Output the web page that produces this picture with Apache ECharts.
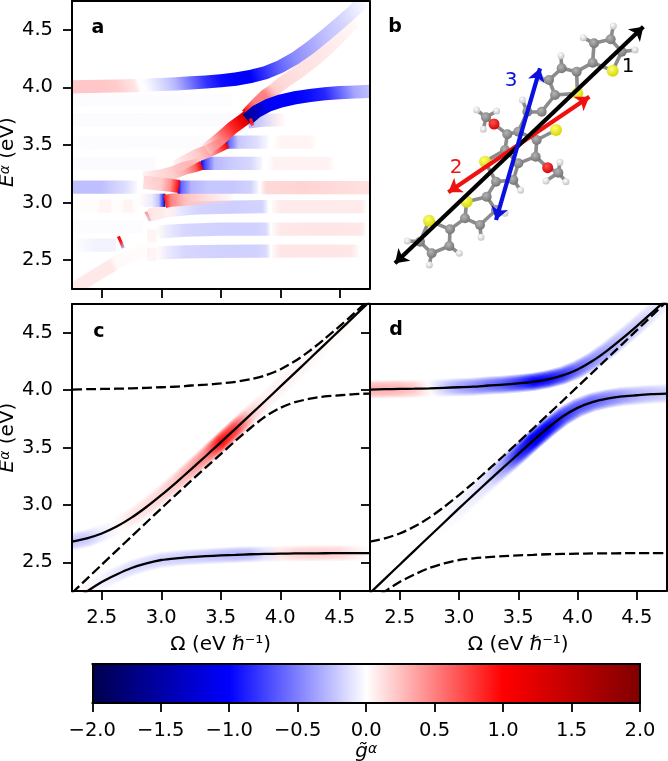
<!DOCTYPE html>
<html><head><meta charset="utf-8">
<style>html,body{margin:0;padding:0;background:#fff}#c{width:668px;height:761px}</style>
<script src="https://cdn.jsdelivr.net/npm/echarts@6/dist/echarts.min.js"></script>
</head><body><div id="c"></div>
<script>
// ---------- tick labels ----------
const energyTicks = [2.5, 3.0, 3.5, 4.0, 4.5];
const omegaTicks = [2.5, 3.0, 3.5, 4.0, 4.5];
const colorTicks = [-2, -1.5, -1, -0.5, 0, 0.5, 1, 1.5, 2];
const cmapStops = [-2, -1, 0, 1, 2];

// ---------- polariton curves (panels c, d) ----------
const omega = [2.25,2.375,2.5,2.625,2.75,2.875,3,3.125,3.25,3.375,3.5,3.625,3.75,3.875,4,4.125,4.25,4.375,4.5,4.625,4.75];
const curveA = [4.005,4.008,4.01,4.012,4.015,4.02,4.025,4.03,4.04,4.047,4.058,4.072,4.094,4.128,4.18,4.253,4.344,4.448,4.558,4.672,4.791];
const curveB = [2.232,2.356,2.479,2.602,2.725,2.847,2.969,3.09,3.209,3.327,3.442,3.56,3.67,3.77,3.845,3.895,3.925,3.945,3.955,3.965,3.97];
const curveC = [2.68,2.709,2.751,2.811,2.889,2.982,3.085,3.195,3.309,3.426,3.545,3.665,3.786,3.907,4.03,4.152,4.275,4.399,4.522,4.646,4.77];
const curveD = [2.15,2.246,2.329,2.394,2.45,2.49,2.52,2.535,2.545,2.553,2.56,2.565,2.57,2.573,2.575,2.577,2.578,2.579,2.58,2.58,2.58];
const gCupper = [-.22,-.2,-.08,.02,.1,.13,.16,.22,.34,.48,.95,.75,.2,.06,.05,.04,.03,.02,.02,.01,0];
const gClower = [.02,.04,-.05,-.1,-.14,-.15,-.17,-.18,-.2,-.22,-.25,-.28,-.25,-.12,.1,.16,.18,.18,.16,.08,.01];
const gDupper = [.3,.3,.28,.2,.02,-.2,-.35,-.45,-.55,-.65,-.8,-1,-.95,-.8,-.6,-.45,-.35,-.25,-.2,-.12,-.05];
const gDlower = [0,0,0,0,0,-.01,-.05,-.08,-.15,-.4,-.85,-1.15,-1.05,-.8,-.65,-.6,-.5,-.4,-.3,-.25,-.2];

// ---------- panel a bands: omega, energy, g ----------
const faint1W=[2.25,3.6],  faint1E=[3.89,3.89],  faint1G=[-.012,-.008];
const faint2W=[2.25,3.7],  faint2E=[3.72,3.72],  faint2G=[-.012,-.015];
const faint3W=[2.25,3.4],  faint3E=[3.525,3.525],faint3G=[-.01,-.012];
const faint4W=[2.25,2.95], faint4E=[3.34,3.34],  faint4G=[-.015,-.015];
const faint5W=[2.25,2.8],  faint5E=[2.97,2.97],  faint5G=[.012,.012];
const faint6W=[2.25,2.85], faint6E=[2.79,2.79],  faint6G=[-.012,-.012];
const faint7W=[2.28,2.45,2.62], faint7E=[2.63,2.63,2.63], faint7G=[-.01,-.05,-.05];
const pink1W=[2.48,2.58],  pink1E=[2.97,2.97],   pink1G=[.035,.035];
const pink2W=[2.68,2.76],  pink2E=[2.97,2.97],   pink2G=[.035,.035];
const pink3W=[2.88,2.96],  pink3E=[2.55,2.55],   pink3G=[.04,.04];
const pink4W=[2.88,2.96],  pink4E=[2.71,2.71],   pink4G=[.04,.04];
const diagW=[2.25,2.42,2.58,2.62,2.9], diagE=[2.24,2.35,2.45,2.48,2.6], diagG=[.09,.09,.09,.02,.012];
const lowBlueW=[2.95,3.05,3.2,3.5,3.8,3.88,3.92], lowBlueE=[2.56,2.565,2.572,2.576,2.578,2.578,2.578], lowBlueG=[0,-.08,-.16,-.18,-.18,-.15,-.01];
const lowRedW=[3.93,4.0,4.4,4.6,4.66], lowRedE=[2.578,2.578,2.58,2.58,2.58], lowRedG=[.02,.1,.1,.09,.02];
const b277BlueW=[2.95,3.05,3.2,3.5,3.8,3.88,3.92], b277BlueE=[2.74,2.75,2.76,2.77,2.77,2.77,2.77], b277BlueG=[0,-.08,-.16,-.18,-.18,-.15,-.01];
const b277RedW=[3.93,4.0,4.4,4.68,4.72], b277RedE=[2.77,2.77,2.77,2.77,2.77], b277RedG=[.02,.09,.1,.09,.02];
const b296BlueW=[3.05,3.15,3.3,3.6,3.85,3.9], b296BlueE=[2.93,2.94,2.955,2.96,2.965,2.965], b296BlueG=[0,-.09,-.17,-.19,-.17,-.02];
const b296RedW=[3.93,4.0,4.4,4.68,4.72], b296RedE=[2.965,2.965,2.965,2.965,2.965], b296RedG=[.02,.08,.08,.08,.02];
const pale296W=[2.9,3.0,3.13], pale296E=[2.89,2.92,2.94], pale296G=[.1,.08,.01];
const tail3W=[3.03,3.08,3.2,3.4,3.6], tail3E=[3.01,3.02,3.03,3.045,3.05], tail3G=[.9,.5,.25,.12,.02];
const left3W=[2.8,2.92,2.98,3.01,3.035], left3E=[3.02,3.02,3.02,3.02,3.02], left3G=[0,-.08,-.25,-.7,-1.7];
const b313LeftW=[2.25,2.5,2.7,2.8], b313LeftE=[3.135,3.135,3.135,3.135], b313LeftG=[-.25,-.25,-.13,-.02];
const b313RedW=[2.85,3.0,3.08,3.15], b313RedE=[3.175,3.16,3.15,3.14], b313RedG=[.12,.2,.45,1];
const b313BlueW=[3.14,3.17,3.25,3.4,3.6,3.75,3.82], b313BlueE=[3.135,3.135,3.135,3.135,3.135,3.135,3.135], b313BlueG=[-1.05,-.6,-.3,-.22,-.22,-.18,-.03];
const b313PinkW=[3.83,3.88,4.2,4.5,4.75], b313PinkE=[3.13,3.13,3.13,3.13,3.13], b313PinkG=[.01,.15,.17,.14,.12];
const b334RedW=[2.85,3.0,3.1,3.2,3.28,3.335], b334RedE=[3.21,3.23,3.26,3.3,3.32,3.34], b334RedG=[.05,.15,.2,.35,.6,1.1];
const b334BlueW=[3.33,3.37,3.45,3.6,3.75,3.85], b334BlueE=[3.34,3.34,3.34,3.34,3.34,3.34], b334BlueG=[-1.15,-.7,-.28,-.2,-.16,-.03];
const b334PinkW=[3.9,3.95,4.4,4.45], b334PinkE=[3.34,3.34,3.34,3.34], b334PinkG=[.01,.05,.05,.01];
const b352RedW=[3.12,3.3,3.4,3.48,3.545], b352RedE=[3.31,3.41,3.45,3.49,3.525], b352RedG=[.05,.2,.35,.7,1.1];
const b352BlueW=[3.54,3.57,3.65,3.8,3.9], b352BlueE=[3.525,3.525,3.525,3.525,3.525], b352BlueG=[-1.2,-.6,-.22,-.13,-.02];
const b352PinkW=[3.95,4.0,4.25,4.3], b352PinkE=[3.525,3.525,3.525,3.525], b352PinkG=[.01,.04,.04,.01];
const b372RedW=[3.38,3.5,3.6,3.68,3.73], b372RedE=[3.46,3.56,3.65,3.71,3.75], b372RedG=[.1,.5,.85,1.2,1.35];
const b372BlueW=[3.73,3.85,4.05], b372BlueE=[3.7,3.715,3.72], b372BlueG=[-.3,-.18,0];
const diagUpW=[3.72,3.8,3.88,3.95,4.02,4.15,4.3,4.45,4.6,4.64], diagUpE=[3.76,3.85,3.93,3.98,4.04,4.13,4.25,4.39,4.55,4.59], diagUpG=[.95,.5,.5,.2,.15,.12,.1,.07,.03,.005];
const topW=[2.25,2.5,2.625,2.78,2.82,2.875,3,3.125,3.25,3.375,3.5,3.625,3.75,3.875,4,4.125,4.25,4.375,4.5,4.625,4.72];
const topE=[4.005,4.01,4.012,4.015,4.017,4.02,4.025,4.03,4.04,4.047,4.058,4.072,4.094,4.128,4.18,4.253,4.344,4.448,4.558,4.672,4.77];
const topG=[.22,.22,.2,.1,0,-.02,-.15,-.3,-.55,-.8,-.95,-1,-1,-.8,-.6,-.45,-.35,-.25,-.18,-.08,-.01];
const upperW=[3.72,3.8,3.9,4,4.125,4.25,4.375,4.5,4.625,4.75];
const upperE=[3.72,3.79,3.845,3.88,3.91,3.93,3.945,3.955,3.96,3.965];
const upperG=[-1.6,-1.35,-1.05,-1,-1,-.95,-.85,-.6,-.35,-.25];
const wedge1W=[2.64,2.66,2.68], wedge1E=[2.706,2.66,2.605], wedge1G=[1,.9,-.3];
const wedge2W=[2.87,2.89,2.905], wedge2E=[2.92,2.88,2.84], wedge2G=[.4,.3,-.2];
const wedge3W=[3.75,3.76,3.77], wedge3E=[3.73,3.69,3.67], wedge3G=[.9,.9,.7];

// ---------- panel b molecule: x, y in the panel's own picture units ----------
const carbon = [[668,188],[672,130],[722,118],[755,155],[620,215],[575,205],[537,240],[555,285],[515,335],[472,335],[445,395],[412,403],[348,352],[500,420],[497,470],[565,518],[445,490],[405,450],[430,540],[378,545],[350,590],[378,630],[330,675],[285,655],[240,688],[238,738],[185,760],[150,725]];
const hydrogen = [[640,113],[730,78],[795,150],[573,167],[510,235],[457,300],[320,330],[380,333],[340,388],[570,487],[528,543],[588,545],[452,571],[405,640],[333,712],[268,760],[178,795],[112,723]];
const sulfur = [[728,212],[622,280],[558,390],[345,485],[290,605],[177,662]];
const oxygen = [[372,372],[533,503]];
const bondPairs = [[[668,188],[672,130]],[[672,130],[722,118]],[[722,118],[755,155]],[[755,155],[728,212]],[[728,212],[668,188]],[[672,130],[640,113]],[[722,118],[730,78]],[[755,155],[795,150]],[[668,188],[620,215]],[[620,215],[575,205]],[[575,205],[537,240]],[[537,240],[555,285]],[[555,285],[622,280]],[[622,280],[620,215]],[[575,205],[573,167]],[[537,240],[510,235]],[[555,285],[515,335]],[[515,335],[472,335]],[[472,335],[457,300]],[[472,335],[445,395]],[[445,395],[412,403]],[[445,395],[500,420]],[[500,420],[497,470]],[[497,470],[445,490]],[[445,490],[405,450]],[[405,450],[412,403]],[[412,403],[372,372]],[[372,372],[348,352]],[[348,352],[320,330]],[[348,352],[380,333]],[[348,352],[340,388]],[[500,420],[558,390]],[[497,470],[533,503]],[[533,503],[565,518]],[[565,518],[570,487]],[[565,518],[528,543]],[[565,518],[588,545]],[[445,490],[430,540]],[[430,540],[452,571]],[[430,540],[378,545]],[[405,450],[345,485]],[[345,485],[378,545]],[[378,545],[350,590]],[[350,590],[290,605]],[[350,590],[378,630]],[[378,630],[405,640]],[[378,630],[330,675]],[[330,675],[333,712]],[[330,675],[285,655]],[[285,655],[290,605]],[[285,655],[240,688]],[[240,688],[238,738]],[[238,738],[268,760]],[[238,738],[185,760]],[[185,760],[178,795]],[[185,760],[150,725]],[[150,725],[112,723]],[[150,725],[177,662]],[[177,662],[240,688]]];
const arrowRed = [[235,577],[658,290]];
const arrowBlack = [[75,790],[820,80]];
const arrowBlue = [[378,660],[510,205]];

// ---------- helpers ----------
const FONT = 'DejaVu Sans';
function seismicRGB(g){
  let r,gg,b;
  if(g<-1){r=0;gg=0;b=1-0.7*(-g-1);}
  else if(g<0){r=1+g;gg=1+g;b=1;}
  else if(g<=1){r=1;gg=1-g;b=1-g;}
  else{r=1-0.5*(g-1);gg=0;b=0;}
  return [r,gg,b].map(v=>Math.round(255*Math.max(0,Math.min(1,v))));
}
function seismic(g){return 'rgb('+seismicRGB(g).join(',')+')';}
// same colour on white, but pale values stay see-through so that they do not hide their neighbours
function seismicSee(g){
  const T=.2, m=Math.abs(g);
  if(m>=T) return seismic(g);
  return 'rgba('+seismicRGB(g<0?-T:T).join(',')+','+(m/T).toFixed(3)+')';
}
const softLayers = {w:[1,.88,.76,.64,.5,.36,.2], s:[.22,.45,.65,.8,.9,.97,1], see:false};
const hardLayers = {w:[1], s:[1], see:true};
const xAxes=[], yAxes=[], grids=[], series=[];

function addGrid(rect, opt){
  const gi = grids.length; grids.push(Object.assign({outerBoundsMode:'none',containLabel:false},rect));
  const base = {gridIndex:gi, type:'value', min:opt.xr[0], max:opt.xr[1], z:5, splitLine:{show:false},
    axisLine:{show:true,onZero:false,lineStyle:{color:'#000',width:2}}};
  const baseY = Object.assign({},base,{min:opt.yr[0],max:opt.yr[1]});
  const xi = xAxes.length, yi = yAxes.length;
  xAxes.push(Object.assign({},base,{position:'bottom',
    axisTick:opt.xTicks?{show:true,length:9,customValues:opt.xTicks,lineStyle:{color:'#000',width:1.8}}:{show:false},
    axisLabel:opt.xLabels?{show:true,customValues:opt.xTicks,margin:opt.labelMargin||17,fontSize:19.5,fontFamily:FONT,color:'#000',
      formatter:v=>Number(v).toFixed(1).replace('-','\u2212')}:{show:false},
    name:opt.xName||'',nameLocation:'middle',nameGap:opt.xGap||44,nameTextStyle:opt.xNameStyle||{fontSize:20,fontFamily:FONT,color:'#000'}}));
  xAxes.push(Object.assign({},base,{position:'top',axisTick:{show:false},axisLabel:{show:false}}));
  yAxes.push(Object.assign({},baseY,{position:'left',
    axisTick:opt.yTicks?{show:true,length:9,customValues:opt.yTicks,lineStyle:{color:'#000',width:1.8}}:{show:false},
    axisLabel:opt.yLabels?{show:true,customValues:opt.yTicks,margin:19,fontSize:19.5,fontFamily:FONT,color:'#000',formatter:v=>Number(v).toFixed(1)}:{show:false},
    name:opt.yName||'',nameLocation:'middle',nameGap:50,nameTextStyle:opt.yNameStyle||{}}));
  yAxes.push(Object.assign({},baseY,{position:'right',axisTick:{show:false},axisLabel:{show:false}}));
  return {xi,yi};
}
function ribbon(ax,W,E,G,hw,layers){
  const col = layers.see ? seismicSee : seismic;
  series.push({type:'custom',xAxisIndex:ax.xi,yAxisIndex:ax.yi,coordinateSystem:'cartesian2d',clip:true,silent:true,z:2,animation:false,
    encode:{x:0,y:1},data:W.map((w,i)=>[w,E[i],G[i]]),
    renderItem(params,api){
      if(params.dataIndex!==0) return;
      const n=W.length, P=W.map((w,i)=>api.coord([w,E[i]]));
      const N=P.map((p,j)=>{const a=P[Math.max(j-1,0)],b=P[Math.min(j+1,n-1)];
        const dx=b[0]-a[0],dy=b[1]-a[1],L=Math.hypot(dx,dy)||1;return [-dy/L,dx/L];});
      const a=P[0],b=P[n-1],cx=b[0]-a[0],cy=b[1]-a[1],c2=cx*cx+cy*cy||1;
      let last=0;
      const off=P.map(p=>{const t=Math.max(last,Math.min(1,((p[0]-a[0])*cx+(p[1]-a[1])*cy)/c2));last=t;return t;});
      const children=layers.w.map((f,k)=>{
        const h=hw*f,s=layers.s[k];
        const up=P.map((p,j)=>[p[0]+N[j][0]*h,p[1]+N[j][1]*h]);
        const dn=P.map((p,j)=>[p[0]-N[j][0]*h,p[1]-N[j][1]*h]).reverse();
        return {type:'polygon',shape:{points:up.concat(dn)},
          style:{fill:new echarts.graphic.LinearGradient(a[0],a[1],b[0],b[1],
            G.map((g,j)=>({offset:off[j],color:col(g*s)})),true)}};
      });
      return {type:'group',children};
    }});
}
function curve(ax,W,E,dashed){
  series.push({type:'line',xAxisIndex:ax.xi,yAxisIndex:ax.yi,data:W.map((w,i)=>[w,E[i]]),showSymbol:false,symbol:'none',smooth:0.25,clip:true,silent:true,z:3,animation:false,
    lineStyle:{color:'#000',width:2.3,type:dashed?[10,4]:'solid'}});
}

const superRich = {
  i:{fontFamily:FONT,fontSize:20,fontStyle:'italic',color:'#000'},
  s:{fontFamily:FONT,fontSize:14,fontStyle:'italic',color:'#000',verticalAlign:'top',padding:[0,0,6,0]},
  n:{fontFamily:FONT,fontSize:20,color:'#000'}
};
const yNameStyleA = {fontFamily:FONT,fontSize:20,color:'#000',rich:superRich,padding:[0,14,0,0]};
const yNameStyleC = {fontFamily:FONT,fontSize:20,color:'#000',rich:superRich,padding:[0,0,0,20]};
const yName = '{i|E}{s|\u03b1}{n| (eV)}';
const xName = '\u03a9 (eV \u210f\u207b\u00b9)';

// ---------- grids ----------
const rng=[2.25,4.75];
const axA=addGrid({left:72,top:1,width:297.5,height:288},{xr:rng,yr:rng,xTicks:omegaTicks,yTicks:energyTicks,yLabels:true,yName,yNameStyle:yNameStyleA});
const axC=addGrid({left:72,top:304,width:297.5,height:287},{xr:rng,yr:rng,xTicks:omegaTicks,xLabels:true,yTicks:energyTicks,yLabels:true,xName,yName,yNameStyle:yNameStyleC});
const axD=addGrid({left:370,top:304,width:296.5,height:287},{xr:rng,yr:rng,xTicks:omegaTicks,xLabels:true,yTicks:energyTicks,xName});
const axCB=addGrid({left:92.3,top:664,width:547.7,height:39},{xr:[-2,2],yr:[0,1],xTicks:colorTicks,xLabels:true,labelMargin:18,xGap:35,
  xName:'{i|g\u0303}{s|\u03b1}',xNameStyle:{fontFamily:FONT,fontSize:20,color:'#000',rich:superRich}});
// hidden frame for the molecule
grids.push({left:370,top:0,width:298,height:300,outerBoundsMode:'none'});
const molG=grids.length-1, molX=xAxes.length, molY=yAxes.length;
xAxes.push({gridIndex:molG,type:'value',min:0,max:894,show:false});
yAxes.push({gridIndex:molG,type:'value',min:0,max:900,inverse:true,show:false});

// ---------- panel a ----------
const H=6.6;
[[faint1W,faint1E,faint1G],[faint2W,faint2E,faint2G],[faint3W,faint3E,faint3G],[faint4W,faint4E,faint4G],[faint5W,faint5E,faint5G],[faint6W,faint6E,faint6G],[faint7W,faint7E,faint7G],
 [pink1W,pink1E,pink1G],[pink2W,pink2E,pink2G],[pink3W,pink3E,pink3G],[pink4W,pink4E,pink4G],[diagW,diagE,diagG],
 [lowBlueW,lowBlueE,lowBlueG],[lowRedW,lowRedE,lowRedG],[b277BlueW,b277BlueE,b277BlueG],[b277RedW,b277RedE,b277RedG],
 [b296BlueW,b296BlueE,b296BlueG],[b296RedW,b296RedE,b296RedG],[pale296W,pale296E,pale296G],[left3W,left3E,left3G],[tail3W,tail3E,tail3G],
 [b313LeftW,b313LeftE,b313LeftG],[b313PinkW,b313PinkE,b313PinkG],[b334PinkW,b334PinkE,b334PinkG],[b352PinkW,b352PinkE,b352PinkG],
 [b372BlueW,b372BlueE,b372BlueG],[b352BlueW,b352BlueE,b352BlueG],[b334BlueW,b334BlueE,b334BlueG],[b313BlueW,b313BlueE,b313BlueG],
 [b334RedW,b334RedE,b334RedG],[b313RedW,b313RedE,b313RedG],[b352RedW,b352RedE,b352RedG],[diagUpW,diagUpE,diagUpG],[b372RedW,b372RedE,b372RedG],
 [topW,topE,topG],[upperW,upperE,upperG]
].forEach(r=>ribbon(axA,r[0],r[1],r[2],H,hardLayers));
[[wedge1W,wedge1E,wedge1G],[wedge2W,wedge2E,wedge2G],[wedge3W,wedge3E,wedge3G]].forEach(r=>ribbon(axA,r[0],r[1],r[2],1.6,{w:[1],s:[1],see:false}));

// ---------- panels c, d ----------
ribbon(axC,omega,curveC,gCupper,9,softLayers);
ribbon(axC,omega,curveD,gClower,8,softLayers);
curve(axC,omega,curveA,true); curve(axC,omega,curveB,true);
curve(axC,omega,curveC,false); curve(axC,omega,curveD,false);
ribbon(axD,omega,curveA,gDupper,9,softLayers);
ribbon(axD,omega,curveB,gDlower,9.5,softLayers);
curve(axD,omega,curveC,true); curve(axD,omega,curveD,true);
curve(axD,omega,curveA,false); curve(axD,omega,curveB,false);

// ---------- colorbar ----------
series.push({type:'custom',xAxisIndex:axCB.xi,yAxisIndex:axCB.yi,coordinateSystem:'cartesian2d',silent:true,z:2,animation:false,
  encode:{x:0},data:cmapStops.map(v=>[v]),
  renderItem(params,api){
    if(params.dataIndex!==0) return;
    const a=api.coord([cmapStops[0],0]),b=api.coord([cmapStops[cmapStops.length-1],1]);
    const span=cmapStops[cmapStops.length-1]-cmapStops[0];
    return {type:'rect',shape:{x:a[0],y:b[1],width:b[0]-a[0],height:a[1]-b[1]},
      style:{fill:new echarts.graphic.LinearGradient(a[0],0,b[0],0,
        cmapStops.map(v=>({offset:(v-cmapStops[0])/span,color:seismic(v)})),true)}};
  }});

// ---------- panel b ----------
series.push({type:'lines',coordinateSystem:'cartesian2d',xAxisIndex:molX,yAxisIndex:molY,silent:true,z:2,animation:false,
  data:bondPairs.map(c=>({coords:c})),lineStyle:{color:'#8c8c8c',width:3.6,opacity:1}});
function atoms(list,size,light,dark){
  series.push({type:'scatter',xAxisIndex:molX,yAxisIndex:molY,data:list,symbolSize:size,silent:true,z:3,animation:false,
    itemStyle:{opacity:1,color:new echarts.graphic.RadialGradient(.4,.35,.7,[{offset:0,color:light},{offset:1,color:dark}])}});
}
atoms(carbon,10,'#b4b4b4','#707070');
atoms(hydrogen,7,'#ffffff','#c0c0c0');
atoms(sulfur,12,'#ffff70','#d4d400');
atoms(oxygen,11,'#ff5050','#d00000');
[[arrowRed,'#f01010'],[arrowBlack,'#000000'],[arrowBlue,'#0a10e0']].forEach(a=>{
  series.push({type:'lines',coordinateSystem:'cartesian2d',xAxisIndex:molX,yAxisIndex:molY,silent:true,z:4,animation:false,
    symbol:['arrow','arrow'],symbolSize:13,data:[{coords:a[0]}],lineStyle:{color:a[1],width:4.2,opacity:1}});
});

// ---------- text ----------
const txt=(s,x,y,fill,weight,size)=>({type:'text',x,y,silent:true,z:20,style:{text:s,fill:fill||'#000',font:(weight||'normal')+' '+(size||20)+'px "'+FONT+'"',textAlign:'center',textVerticalAlign:'middle'}});

const chart=echarts.init(document.getElementById('c'),null,{renderer:'canvas'});
chart.setOption({animation:false,backgroundColor:'#fff',textStyle:{fontFamily:FONT},
  grid:grids,xAxis:xAxes,yAxis:yAxes,series,
  graphic:[txt('a',98,28,'#000','bold',19),txt('b',395,27,'#000','bold',19),txt('c',99,332,'#000','bold',19),txt('d',396,330,'#000','bold',19),
    txt('1',628,67),txt('2',456,168,'#f01010'),txt('3',511,81,'#0a10e0')]});
</script></body></html>
